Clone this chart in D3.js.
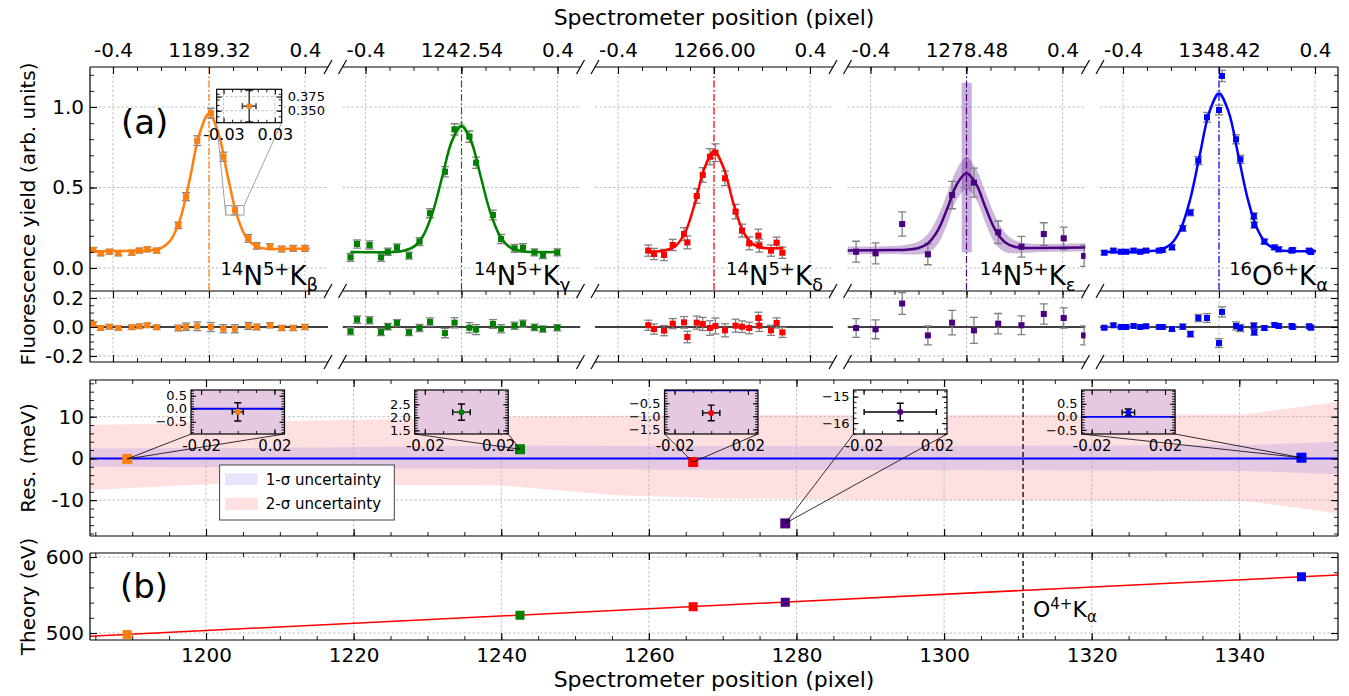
<!DOCTYPE html>
<html><head><meta charset="utf-8">
<script src="https://cdn.jsdelivr.net/npm/d3@7"></script>
<style>body{margin:0;background:#fff}svg{display:block}</style>
</head><body><script>
// ---------------- DATA ----------------
const centers = [1189.32, 1242.54, 1266.00, 1278.48, 1348.42];
const centerLabels = ["1189.32", "1242.54", "1266.00", "1278.48", "1348.42"];
const isotopes = ["14", "14", "14", "14", "16"];
const ions = ["N", "N", "N", "N", "O"];
const charges = ["5+", "5+", "5+", "5+", "6+"];
const lineSubs = ["β", "γ", "δ", "ε", "α"];

// N5+ K-beta
const kbX = [-0.482,-0.451,-0.415,-0.378,-0.322,-0.290,-0.257,-0.218,-0.128,-0.096,-0.049,0.008,0.060,0.108,0.164,0.199,0.254,0.303,0.351,0.400];
const kbY = [0.112,0.091,0.101,0.091,0.095,0.108,0.116,0.108,0.265,0.443,0.791,0.961,0.691,0.358,0.184,0.137,0.132,0.118,0.122,0.122];
const kbErr = [0.015,0.015,0.015,0.015,0.015,0.015,0.015,0.015,0.02,0.025,0.03,0.031,0.028,0.028,0.024,0.02,0.018,0.018,0.018,0.018];
const kbRes = [0.021,-0.007,0.002,-0.007,-0.002,0.005,0.012,-0.002,-0.007,0.002,0.005,0,-0.012,-0.012,0.007,0,0.012,-0.007,-0.007,0];
const kbFitX = [-0.496,-0.3,-0.25,-0.2,-0.16,-0.12,-0.08,-0.04,0,0.04,0.08,0.12,0.16,0.2,0.25,0.3,0.42];
const kbFitY = [0.103,0.107,0.109,0.123,0.172,0.305,0.552,0.831,0.960,0.833,0.555,0.310,0.178,0.131,0.119,0.119,0.121];
const kbBandHi = [0.107,0.111,0.113,0.128,0.179,0.315,0.564,0.843,0.974,0.845,0.567,0.320,0.185,0.136,0.123,0.123,0.125];
const kbBandLo = [0.099,0.103,0.105,0.118,0.165,0.295,0.540,0.819,0.946,0.821,0.543,0.300,0.171,0.126,0.115,0.115,0.117];

// N5+ K-gamma
const kgX = [-0.4625,-0.435,-0.383,-0.335,-0.307,-0.269,-0.219,-0.175,-0.131,-0.069,-0.029,0.033,0.061,0.131,0.165,0.221,0.256,0.304,0.339,0.399];
const kgY = [0.066,0.149,0.143,0.066,0.101,0.128,0.077,0.164,0.340,0.598,0.861,0.816,0.654,0.329,0.180,0.122,0.126,0.097,0.081,0.097];
const kgErr = [0.025,0.025,0.025,0.025,0.022,0.022,0.022,0.025,0.028,0.032,0.035,0.035,0.035,0.03,0.028,0.025,0.025,0.022,0.022,0.022];
const kgRes = [-0.030,0.051,0.046,-0.035,0.002,0.028,-0.037,-0.007,0.035,-0.042,0.030,-0.005,-0.018,0.021,-0.012,0.009,0.023,-0.002,-0.014,-0.005];
const kgFitX = [-0.4625,-0.3,-0.25,-0.2,-0.16,-0.12,-0.08,-0.04,0,0.04,0.08,0.12,0.16,0.2,0.25,0.3,0.4];
const kgFitY = [0.099,0.099,0.104,0.131,0.200,0.346,0.568,0.788,0.882,0.788,0.568,0.346,0.200,0.131,0.104,0.099,0.099];
const kgBandHi = [0.105,0.105,0.112,0.143,0.218,0.368,0.593,0.813,0.912,0.813,0.593,0.368,0.218,0.143,0.112,0.105,0.105];
const kgBandLo = [0.093,0.093,0.096,0.119,0.182,0.324,0.543,0.763,0.852,0.763,0.543,0.324,0.182,0.119,0.096,0.093,0.093];

// N5+ K-delta
const kdX = [-0.274,-0.25,-0.208,-0.172,-0.125,-0.111,-0.072,-0.047,-0.017,0.006,0.046,0.090,0.117,0.147,0.185,0.189,0.2375,0.261,0.285];
const kdY = [0.108,0.087,0.081,0.143,0.211,0.159,0.447,0.578,0.691,0.716,0.557,0.350,0.232,0.153,0.201,0.139,0.108,0.157,0.095];
const kdErr = [0.035,0.035,0.035,0.035,0.04,0.04,0.045,0.045,0.05,0.055,0.045,0.045,0.04,0.04,0.04,0.04,0.035,0.035,0.035];
const kdRes = [0.012,-0.014,-0.025,0.023,0.032,-0.069,0.030,0.021,-0.007,0.007,-0.023,0.009,0.002,-0.007,0.062,0.009,-0.023,0.028,-0.037];
const kdFitX = [-0.274,-0.2,-0.16,-0.12,-0.08,-0.04,0,0.04,0.08,0.12,0.16,0.2,0.25,0.289];
const kdFitY = [0.101,0.110,0.137,0.222,0.400,0.619,0.725,0.622,0.406,0.231,0.150,0.126,0.122,0.124];
const kdBandHi = [0.111,0.120,0.149,0.236,0.416,0.637,0.745,0.640,0.422,0.245,0.162,0.136,0.132,0.134];
const kdBandLo = [0.091,0.100,0.125,0.208,0.384,0.601,0.705,0.604,0.390,0.217,0.138,0.116,0.112,0.114];

// N5+ K-epsilon
const keX = [-0.46,-0.379,-0.268,-0.161,-0.06,0.031,0.132,0.229,0.322,0.405,0.49];
const keY = [0.101,0.091,0.273,0.085,0.453,0.53,0.222,0.132,0.211,0.184,0.075];
const keErr = [0.065,0.065,0.075,0.065,0.085,0.09,0.07,0.065,0.07,0.07,0.065];
const keRes = [-0.007,-0.016,0.162,-0.058,0.030,-0.023,0.023,0.012,0.090,0.062,-0.058];
const keFitX = [-0.496,-0.3,-0.25,-0.2,-0.16,-0.12,-0.08,-0.04,0,0.04,0.08,0.12,0.16,0.2,0.25,0.3,0.496];
const keFitY = [0.108,0.112,0.114,0.124,0.154,0.232,0.369,0.520,0.588,0.521,0.372,0.236,0.160,0.132,0.124,0.124,0.128];
const keBandHi = [0.133,0.137,0.144,0.164,0.214,0.317,0.464,0.615,0.688,0.616,0.467,0.321,0.220,0.172,0.154,0.149,0.153];
const keBandLo = [0.083,0.087,0.084,0.084,0.094,0.147,0.274,0.425,0.488,0.426,0.277,0.151,0.100,0.092,0.094,0.099,0.103];
const keCenterSpanX = [-0.020, 0.022];
const keCenterSpanY = [0.097, 1.15];

// O6+ K-alpha
const oaX = [-0.478,-0.44,-0.408,-0.3875,-0.356,-0.328,-0.304,-0.249,-0.235,-0.196,-0.151,-0.119,-0.086,-0.05,0.0,0.0125,0.071,0.089,0.145,0.147,0.189,0.231,0.249,0.303,0.307,0.376,0.383];
const oaY = [0.095,0.108,0.101,0.101,0.108,0.101,0.108,0.108,0.112,0.128,0.246,0.344,0.667,0.936,0.981,1.193,0.799,0.675,0.323,0.267,0.164,0.128,0.116,0.108,0.112,0.108,0.099];
const oaErr = [0.012,0.012,0.012,0.012,0.012,0.012,0.012,0.012,0.012,0.014,0.018,0.02,0.025,0.03,0.03,0.035,0.028,0.025,0.02,0.02,0.016,0.014,0.014,0.012,0.012,0.012,0.012];
const oaRes = [-0.005,0.012,0,0,0.007,0,0.005,0,0,-0.014,0.002,-0.049,0.062,0.062,-0.111,0.104,0.007,-0.007,0.009,-0.037,-0.007,0.014,0.007,0.007,0,0.005,-0.005];
const oaFitX = [-0.482,-0.3,-0.25,-0.2,-0.16,-0.12,-0.08,-0.04,0,0.04,0.08,0.12,0.16,0.2,0.25,0.3,0.404];
const oaFitY = [0.100,0.104,0.112,0.149,0.241,0.427,0.703,0.970,1.084,0.970,0.703,0.427,0.241,0.149,0.112,0.105,0.104];
const oaBandHi = [0.104,0.108,0.117,0.157,0.253,0.443,0.723,0.992,1.109,0.992,0.723,0.443,0.253,0.157,0.117,0.109,0.108];
const oaBandLo = [0.096,0.100,0.107,0.141,0.229,0.411,0.683,0.948,1.059,0.948,0.683,0.411,0.229,0.141,0.107,0.101,0.100];

const topXErr = 0.009;
// zoomed point in panel (a) inset: K-beta point #13
const zoomIdx = 13, zoomXErr = 0.008;

// calibration residuals (meV) and theory energies (eV)
const resMeV = [-0.12, 2.2, -0.87, -15.58, 0.17];
const resErrMeV = [0.35, 0.31, 0.30, 0.33, 0.13];
const posErrPix = [0.003, 0.0048, 0.0047, 0.0197, 0.0034];
const theoryEV = [498.0, 523.4, 534.6, 540.5, 574.0];
const calLineX = [1184.28, 1353.37];
const calLineE = [495.7, 576.5];
const o4Pos = 1310.7;
// uncertainty bands (meV)
const bandX = [1184.28, 1205, 1225, 1240, 1255, 1270, 1300, 1341, 1353.37];
const sig2Hi = [8.0, 8.8, 9.4, 10.0, 10.2, 10.4, 10.4, 10.6, 13.6];
const sig2Lo = [-7.6, -5.8, -6.4, -6.5, -8.8, -9.6, -10.0, -10.2, -13.2];
const sig1Hi = [2.4, 2.5, 2.8, 3.1, 3.0, 3.0, 3.0, 3.2, 4.0];
const sig1Lo = [-2.0, -2.2, -2.4, -2.5, -2.6, -2.8, -2.8, -3.0, -3.8];

// ---------------- STYLE / LAYOUT ----------------
const COLORS = ['#ff7f0e', '#008000', '#ff0000', '#4b0082', '#0000ff'];
const BANDFILL = ['rgba(255,127,14,0.25)', 'rgba(0,128,0,0.25)', 'rgba(255,0,0,0.2)', 'rgba(75,0,130,0.28)', 'rgba(0,0,255,0.2)'];
const FONT = '"DejaVu Sans", sans-serif';
const SER = [
  {x:kbX,y:kbY,e:kbErr,r:kbRes,fx:kbFitX,fy:kbFitY,hi:kbBandHi,lo:kbBandLo},
  {x:kgX,y:kgY,e:kgErr,r:kgRes,fx:kgFitX,fy:kgFitY,hi:kgBandHi,lo:kgBandLo},
  {x:kdX,y:kdY,e:kdErr,r:kdRes,fx:kdFitX,fy:kdFitY,hi:kdBandHi,lo:kdBandLo},
  {x:keX,y:keY,e:keErr,r:keRes,fx:keFitX,fy:keFitY,hi:keBandHi,lo:keBandLo},
  {x:oaX,y:oaY,e:oaErr,r:oaRes,fx:oaFitX,fy:oaFitY,hi:oaBandHi,lo:oaBandLo}
];
const PL = 90, PR = 1338;
const topY0 = 67, topY1 = 291, resY0 = 291, resY1 = 362;
const rY0 = 380, rY1 = 536, tY0 = 553, tY1 = 640;
const halfW = 119, pxPerU = 240;
const uDom = [-halfW / pxPerU, halfW / pxPerU];
const subCenter = i => 209 + 252.5 * i;

const svg = d3.select('body').append('svg').attr('width', 1349).attr('height', 696).attr('font-family', FONT);
const defs = svg.append('defs');
let clipN = 0;
function clip(x, y, w, h) {
  const id = 'c' + (clipN++);
  defs.append('clipPath').attr('id', id).append('rect').attr('x', x).attr('y', y).attr('width', w).attr('height', h);
  return `url(#${id})`;
}
function hy(d, n) { return (d < 0 ? '-' : '') + Math.abs(d).toFixed(n); }
function um(d, n) { return (d < 0 ? '\u2212' : '') + Math.abs(d).toFixed(n); }

function axis(g, orient, scale, pos, major, minor, fmt, o = {}) {
  const gen = {top: d3.axisTop, bottom: d3.axisBottom, left: d3.axisLeft, right: d3.axisRight}[orient];
  const horiz = orient === 'top' || orient === 'bottom';
  const tr = horiz ? `translate(0,${pos})` : `translate(${pos},0)`;
  const ml = o.ml || 7, nl = o.nl || 4;
  if (minor && minor.length) {
    const gm = g.append('g').attr('transform', tr).call(gen(scale).tickValues(minor).tickSize(-nl).tickFormat(''));
    gm.select('.domain').remove();
    gm.selectAll('line').attr('stroke-width', 0.9);
  }
  const gM = g.append('g').attr('transform', tr)
    .call(gen(scale).tickValues(major).tickSize(-ml).tickPadding(o.pad == null ? 6 : o.pad).tickFormat(fmt || (() => '')));
  gM.select('.domain').remove();
  gM.attr('font-size', o.fs || 20).attr('font-family', FONT);
  gM.selectAll('line').attr('stroke-width', 1.1);
  return gM;
}
function errorBars(g, xs, ys, es, exv, sx, sy, color, sw, capW, capH) {
  const gg = g.append('g').attr('stroke', color).attr('stroke-width', sw).attr('fill', 'none');
  xs.forEach((xv, j) => {
    const px = sx(xv), py = sy(ys[j]), y1 = sy(ys[j] - es[j]), y2 = sy(ys[j] + es[j]);
    gg.append('line').attr('x1', px).attr('x2', px).attr('y1', y1).attr('y2', y2);
    gg.append('line').attr('x1', px - capW).attr('x2', px + capW).attr('y1', y1).attr('y2', y1);
    gg.append('line').attr('x1', px - capW).attr('x2', px + capW).attr('y1', y2).attr('y2', y2);
    const ex = Array.isArray(exv) ? exv[j] : exv;
    if (ex) {
      const xa = sx(xv - ex), xb = sx(xv + ex);
      gg.append('line').attr('x1', xa).attr('x2', xb).attr('y1', py).attr('y2', py);
      gg.append('line').attr('x1', xa).attr('x2', xa).attr('y1', py - capH).attr('y2', py + capH);
      gg.append('line').attr('x1', xb).attr('x2', xb).attr('y1', py - capH).attr('y2', py + capH);
    }
  });
}
function line(g, x1, y1, x2, y2, stroke, sw, dash) {
  const l = g.append('line').attr('x1', x1).attr('y1', y1).attr('x2', x2).attr('y2', y2).attr('stroke', stroke).attr('stroke-width', sw);
  if (dash) l.attr('stroke-dasharray', dash);
  return l;
}
function mathText(g, x, y, anchor, parts, big, small) {
  const t = g.append('text').attr('x', x).attr('y', y).attr('text-anchor', anchor).attr('fill', '#000');
  let cur = 0;
  parts.forEach(([txt, kind]) => {
    const off = kind === 'sup' ? -0.38 * big : kind === 'sub' ? 0.22 * big : 0;
    t.append('tspan').attr('dy', off - cur).attr('font-size', kind === 'base' ? big : small).text(txt);
    cur = off;
  });
  return t;
}
const GRID = {c: '#b0b0b0', w: 0.8, d: '2.5,2'};

const yTop = d3.scaleLinear().domain([-0.1429, 1.2484]).range([topY1, topY0]);
const yResid = d3.scaleLinear().domain([-0.2414, 0.2483]).range([resY1, resY0]);
const minorU = d3.range(-4, 5).map(d => d / 10);
const minorTopY = d3.range(-1, 13).map(d => d / 10);
const minorResY = d3.range(-4, 5).map(d => d * 0.05);

// ---------------- PANEL (a): spectra + residuals ----------------
SER.forEach((s, i) => {
  const cx = subCenter(i), x0 = cx - halfW, x1 = cx + halfW;
  const x = d3.scaleLinear().domain(uDom).range([x0, x1]);
  const g = svg.append('g');
  [-0.4, 0, 0.4].forEach(u => line(g, x(u), topY0, x(u), resY1, GRID.c, GRID.w, GRID.d));
  [0, 0.5, 1].forEach(v => line(g, x0, yTop(v), x1, yTop(v), GRID.c, GRID.w, GRID.d));
  [-0.2, 0.2].forEach(v => line(g, x0, yResid(v), x1, yResid(v), GRID.c, GRID.w, GRID.d));

  const gc = g.append('g').attr('clip-path', clip(x0, topY0, x1 - x0, topY1 - topY0));
  line(gc, x(0), topY0, x(0), topY1, COLORS[i], 1.2, '7,2.5,1.5,2.5');
  const area = d3.area().x((d, j) => x(s.fx[j])).y0((d, j) => yTop(s.lo[j])).y1((d, j) => yTop(s.hi[j])).curve(d3.curveCatmullRom);
  gc.append('path').datum(s.fx).attr('d', area).attr('fill', BANDFILL[i]);
  if (i === 3) {
    gc.append('rect').attr('x', x(keCenterSpanX[0])).attr('width', x(keCenterSpanX[1]) - x(keCenterSpanX[0]))
      .attr('y', yTop(keCenterSpanY[1])).attr('height', yTop(keCenterSpanY[0]) - yTop(keCenterSpanY[1]))
      .attr('fill', 'rgba(75,0,130,0.3)');
  }
  errorBars(gc, s.x, s.y, s.e, topXErr, x, yTop, '#808080', 1.3, 4, 3);
  const fit = d3.line().x((d, j) => x(s.fx[j])).y((d, j) => yTop(s.fy[j])).curve(d3.curveCatmullRom);
  gc.append('path').datum(s.fx).attr('d', fit).attr('fill', 'none').attr('stroke', COLORS[i]).attr('stroke-width', 2.5);
  gc.selectAll(null).data(s.x).enter().append('rect')
    .attr('x', d => x(d) - 3).attr('y', (d, j) => yTop(s.y[j]) - 3).attr('width', 6).attr('height', 6).attr('fill', COLORS[i]);

  mathText(g, x1 - 10, 285, 'end',
    [[isotopes[i], 'sup'], [ions[i], 'base'], [charges[i], 'sup'], ['K', 'base'], [lineSubs[i], 'sub']], 26, 18);

  // residuals
  const gr = g.append('g').attr('clip-path', clip(x0, resY0, x1 - x0, resY1 - resY0));
  line(gr, x0, yResid(0), x1, yResid(0), '#000', 1.4);
  errorBars(gr, s.x, s.r, s.e, topXErr, x, yResid, '#808080', 1.3, 4, 2.5);
  gr.selectAll(null).data(s.x).enter().append('rect')
    .attr('x', d => x(d) - 3).attr('y', (d, j) => yResid(s.r[j]) - 3).attr('width', 6).attr('height', 6).attr('fill', COLORS[i]);

  // spines
  [topY0, resY0, resY1].forEach(yy => line(g, x0, yy, x1, yy, '#000', 1.2));
  if (i === 0) line(g, x0, topY0, x0, resY1, '#000', 1.2);
  if (i === 4) line(g, x1, topY0, x1, resY1, '#000', 1.2);

  // axes
  axis(g, 'top', x, topY0, [-0.4, 0, 0.4], minorU, d => d === 0 ? centerLabels[i] : hy(d, 1), {pad: 10});
  axis(g, 'top', x, resY0, [-0.4, 0, 0.4], minorU, null);
  axis(g, 'bottom', x, resY1, [-0.4, 0, 0.4], minorU, null);
  if (i === 0) {
    axis(g, 'left', yTop, x0, [0, 0.5, 1], minorTopY, d => d.toFixed(1));
    axis(g, 'left', yResid, x0, [-0.2, 0, 0.2], minorResY, d => hy(d, 1));
  }
  if (i === 4) {
    axis(g, 'right', yTop, x1, [0, 0.5, 1], minorTopY, null);
    axis(g, 'right', yResid, x1, [-0.2, 0, 0.2], minorResY, null);
  }
  // break marks
  const marks = [];
  if (i > 0) marks.push(x0);
  if (i < 4) marks.push(x1);
  marks.forEach(mx => [topY0, resY0, resY1].forEach(my => line(g, mx - 4, my + 7, mx + 4, my - 7, '#000', 1.2)));

  // zoom inset on panel (a), first subplot
  if (i === 0) {
    const zx = s.x[zoomIdx], zy = s.y[zoomIdx], ze = s.e[zoomIdx];
    const ib = {l: 216.7, t: 89.3, w: 65, h: 33.4};
    const xi = d3.scaleLinear().domain([zx - 0.038, zx + 0.038]).range([ib.l, ib.l + ib.w]);
    const yi = d3.scaleLinear().domain([0.3286, 0.388]).range([ib.t + ib.h, ib.t]);
    g.append('rect').attr('x', x(zx - 0.038)).attr('y', yTop(0.388)).attr('width', x(zx + 0.038) - x(zx - 0.038))
      .attr('height', yTop(0.3286) - yTop(0.388)).attr('fill', 'none').attr('stroke', '#a0a0a0').attr('stroke-width', 1);
    line(g, ib.l, ib.t + ib.h, x(zx - 0.038), yTop(0.3286), '#a0a0a0', 1);
    line(g, ib.l + ib.w, ib.t + ib.h, x(zx + 0.038), yTop(0.388), '#a0a0a0', 1);
    const gi = g.append('g');
    gi.append('rect').attr('x', ib.l).attr('y', ib.t).attr('width', ib.w).attr('height', ib.h).attr('fill', '#fff');
    [-0.03, 0.03].forEach(u => line(gi, xi(zx + u), ib.t, xi(zx + u), ib.t + ib.h, GRID.c, GRID.w, GRID.d));
    [0.35, 0.375].forEach(v => line(gi, ib.l, yi(v), ib.l + ib.w, yi(v), GRID.c, GRID.w, GRID.d));
    errorBars(gi, [zx], [zy], [ze], zoomXErr, xi, yi, '#404040', 1.5, 4, 3);
    gi.append('rect').attr('x', xi(zx) - 2.5).attr('y', yi(zy) - 2.5).attr('width', 5).attr('height', 5).attr('fill', COLORS[0]);
    gi.append('rect').attr('x', ib.l).attr('y', ib.t).attr('width', ib.w).attr('height', ib.h).attr('fill', 'none').attr('stroke', '#000').attr('stroke-width', 1.2);
    const relTicks = [zx - 0.03, zx + 0.03];
    axis(gi, 'bottom', xi, ib.t + ib.h, relTicks, [zx - 0.02, zx - 0.01, zx, zx + 0.01, zx + 0.02], d => hy(d - zx, 2), {fs: 16, ml: 5, nl: 3, pad: 6});
    axis(gi, 'top', xi, ib.t, relTicks, [zx - 0.02, zx - 0.01, zx, zx + 0.01, zx + 0.02], null, {ml: 5, nl: 3});
    const yMin = d3.range(33, 39).map(d => d * 0.01);
    axis(gi, 'right', yi, ib.l + ib.w, [0.35, 0.375], yMin, d => d.toFixed(3), {fs: 13, ml: 5, nl: 3, pad: 6});
    axis(gi, 'left', yi, ib.l, [0.35, 0.375], yMin, null, {ml: 5, nl: 3});
  }
});

// panel labels / titles
svg.append('text').attr('x', 121).attr('y', 134).attr('font-size', 34).text('(a)');
svg.append('text').attr('x', 714).attr('y', 25).attr('text-anchor', 'middle').attr('font-size', 22).text('Spectrometer position (pixel)');
svg.append('text').attr('transform', 'translate(28,214) rotate(-90)').attr('dy', '0.35em').attr('text-anchor', 'middle').attr('font-size', 20).text('Fluorescence yield (arb. units)');

// ---------------- RESIDUAL (meV) PANEL ----------------
const xP = d3.scaleLinear().domain([1184.28, 1353.37]).range([PL, PR]);
const yR = d3.scaleLinear().domain([-18.6, 18.8]).range([rY1, rY0]);
const yT = d3.scaleLinear().domain([490.8, 605.3]).range([tY1, tY0]);
const pixMajor = d3.range(1200, 1341, 20);
const pixMinor = d3.range(1185, 1354, 5);

const gR = svg.append('g');
const gRc = gR.append('g').attr('clip-path', clip(PL, rY0, PR - PL, rY1 - rY0));
const band2 = d3.area().x((d, j) => xP(bandX[j])).y0((d, j) => yR(sig2Lo[j])).y1((d, j) => yR(sig2Hi[j]));
const band1 = d3.area().x((d, j) => xP(bandX[j])).y0((d, j) => yR(sig1Lo[j])).y1((d, j) => yR(sig1Hi[j]));
const FILL2 = 'rgba(255,0,0,0.12)', FILL1 = 'rgba(0,0,255,0.1)';
gRc.append('path').datum(bandX).attr('d', band2).attr('fill', FILL2);
gRc.append('path').datum(bandX).attr('d', band1).attr('fill', FILL1);
pixMajor.forEach(p => line(gRc, xP(p), rY0, xP(p), rY1, GRID.c, GRID.w, GRID.d));
[-10, 10].forEach(v => line(gRc, PL, yR(v), PR, yR(v), GRID.c, GRID.w, GRID.d));
line(gRc, PL, yR(0), PR, yR(0), '#0000ff', 2);
line(gRc, xP(o4Pos), rY0, xP(o4Pos), rY1, '#000', 1.3, '5,3');
centers.forEach((c, k) => {
  gRc.append('rect').attr('x', xP(c) - 5).attr('y', yR(resMeV[k]) - 5).attr('width', 10).attr('height', 10).attr('fill', COLORS[k]);
});

// insets
const insetLeft = [191, 414.7, 664.5, 853.5, 1081.6];
const insetTop = 390, insetW = 93.5, insetH = 44;
const insetYDom = [[-0.97, 0.72], [1.36, 3.05], [-1.68, 0.01], [-16.41, -14.75], [-0.66, 1.03]];
const insetYMajor = [[-0.5, 0, 0.5], [1.5, 2, 2.5], [-1.5, -1, -0.5], [-16, -15], [-0.5, 0, 0.5]];
const insetYMinorStep = [0.1, 0.1, 0.1, 0.2, 0.1];
centers.forEach((c, k) => {
  const l = insetLeft[k], t = insetTop, w = insetW, h = insetH;
  const px = xP(c), py = yR(resMeV[k]);
  line(gR, l, t + h, px, py, '#000', 0.8);
  line(gR, l + w, t + h, px, py, '#000', 0.8);
  const xi = d3.scaleLinear().domain([c - 0.0255, c + 0.0255]).range([l, l + w]);
  const yi = d3.scaleLinear().domain(insetYDom[k]).range([t + h, t]);
  const gi = gR.append('g');
  gi.append('rect').attr('x', l).attr('y', t).attr('width', w).attr('height', h).attr('fill', '#fff');
  const ci = gi.append('g').attr('clip-path', clip(l, t, w, h));
  const a2 = d3.area().x((d, j) => xi(bandX[j])).y0((d, j) => yi(sig2Lo[j])).y1((d, j) => yi(sig2Hi[j]));
  const a1 = d3.area().x((d, j) => xi(bandX[j])).y0((d, j) => yi(sig1Lo[j])).y1((d, j) => yi(sig1Hi[j]));
  ci.append('path').datum(bandX).attr('d', a2).attr('fill', FILL2);
  ci.append('path').datum(bandX).attr('d', a1).attr('fill', FILL1);
  const yd = insetYDom[k];
  if (yd[0] < 0 && yd[1] > 0) line(ci, l, yi(0), l + w, yi(0), '#0000ff', 1.8);
  errorBars(ci, [c], [resMeV[k]], [resErrMeV[k]], posErrPix[k], xi, yi, '#000', 1.4, 3.5, 3);
  ci.append('circle').attr('cx', xi(c)).attr('cy', yi(resMeV[k])).attr('r', 3).attr('fill', COLORS[k]);
  gi.append('rect').attr('x', l).attr('y', t).attr('width', w).attr('height', h).attr('fill', 'none').attr('stroke', '#000').attr('stroke-width', 1.2);
  const st = insetYMinorStep[k];
  const yMinor = d3.range(Math.ceil(yd[0] / st), Math.floor(yd[1] / st) + 1).map(d => d * st);
  const xMaj = [c - 0.02, c + 0.02], xMin = [c - 0.02, c - 0.01, c, c + 0.01, c + 0.02];
  axis(gi, 'left', yi, l, insetYMajor[k], yMinor, d => um(d, k === 3 ? 0 : 1), {fs: 13, ml: 5, nl: 3, pad: 4});
  axis(gi, 'right', yi, l + w, insetYMajor[k], yMinor, null, {ml: 5, nl: 3});
  axis(gi, 'bottom', xi, t + h, xMaj, xMin, d => hy(d - c, 2), {fs: 15, ml: 5, nl: 3, pad: 6});
  axis(gi, 'top', xi, t, xMaj, xMin, null, {ml: 5, nl: 3});
});

// legend
const lg = gR.append('g');
lg.append('rect').attr('x', 219.6).attr('y', 465).attr('width', 174.7).attr('height', 55).attr('fill', '#fff').attr('stroke', '#444').attr('stroke-width', 1);
lg.append('rect').attr('x', 225).attr('y', 473.3).attr('width', 32.6).attr('height', 11.7).attr('fill', FILL1);
lg.append('rect').attr('x', 225).attr('y', 497.7).attr('width', 32.6).attr('height', 12.3).attr('fill', FILL2);
lg.append('text').attr('x', 265.7).attr('y', 485).attr('font-size', 15).text('1-σ uncertainty');
lg.append('text').attr('x', 265.7).attr('y', 509).attr('font-size', 15).text('2-σ uncertainty');

[[PL, rY0, PR, rY0], [PL, rY1, PR, rY1], [PL, rY0, PL, rY1], [PR, rY0, PR, rY1]].forEach(a => line(gR, a[0], a[1], a[2], a[3], '#000', 1.2));
axis(gR, 'bottom', xP, rY1, pixMajor, pixMinor, null);
axis(gR, 'top', xP, rY0, pixMajor, pixMinor, null);
const mevMinor = d3.range(-18, 19, 2);
axis(gR, 'left', yR, PL, [-10, 0, 10], mevMinor, d => hy(d, 0));
axis(gR, 'right', yR, PR, [-10, 0, 10], mevMinor, null);
svg.append('text').attr('transform', `translate(28,${(rY0 + rY1) / 2}) rotate(-90)`).attr('dy', '0.35em').attr('text-anchor', 'middle').attr('font-size', 20).text('Res. (meV)');

// ---------------- THEORY PANEL (b) ----------------
const gT = svg.append('g');
const gTc = gT.append('g').attr('clip-path', clip(PL, tY0, PR - PL, tY1 - tY0));
pixMajor.forEach(p => line(gTc, xP(p), tY0, xP(p), tY1, GRID.c, GRID.w, GRID.d));
[500, 600].forEach(v => line(gTc, PL, yT(v), PR, yT(v), GRID.c, GRID.w, GRID.d));
line(gTc, xP(o4Pos), tY0, xP(o4Pos), tY1, '#000', 1.3, '5,3');
gTc.append('path').datum(calLineX).attr('d', d3.line().x(d => xP(d)).y((d, j) => yT(calLineE[j])))
  .attr('fill', 'none').attr('stroke', '#ff0000').attr('stroke-width', 1.5);
centers.forEach((c, k) => {
  gTc.append('rect').attr('x', xP(c) - 4.5).attr('y', yT(theoryEV[k]) - 4.5).attr('width', 9).attr('height', 9).attr('fill', COLORS[k]);
});
[[PL, tY0, PR, tY0], [PL, tY1, PR, tY1], [PL, tY0, PL, tY1], [PR, tY0, PR, tY1]].forEach(a => line(gT, a[0], a[1], a[2], a[3], '#000', 1.2));
axis(gT, 'bottom', xP, tY1, pixMajor, pixMinor, d => String(d), {pad: 8});
axis(gT, 'top', xP, tY0, pixMajor, pixMinor, null);
const evMinor = d3.range(500, 601, 20);
axis(gT, 'left', yT, PL, [500, 600], evMinor, d => String(d));
axis(gT, 'right', yT, PR, [500, 600], evMinor, null);
svg.append('text').attr('x', 120).attr('y', 598).attr('font-size', 34).text('(b)');
mathText(gT, 1033, 617, 'start', [['O', 'base'], ['4+', 'sup'], ['K', 'base'], ['α', 'sub']], 22, 15);
svg.append('text').attr('transform', `translate(28,${(tY0 + tY1) / 2}) rotate(-90)`).attr('dy', '0.35em').attr('text-anchor', 'middle').attr('font-size', 20).text('Theory (eV)');
svg.append('text').attr('x', 714).attr('y', 687).attr('text-anchor', 'middle').attr('font-size', 22).text('Spectrometer position (pixel)');
</script></body></html>
